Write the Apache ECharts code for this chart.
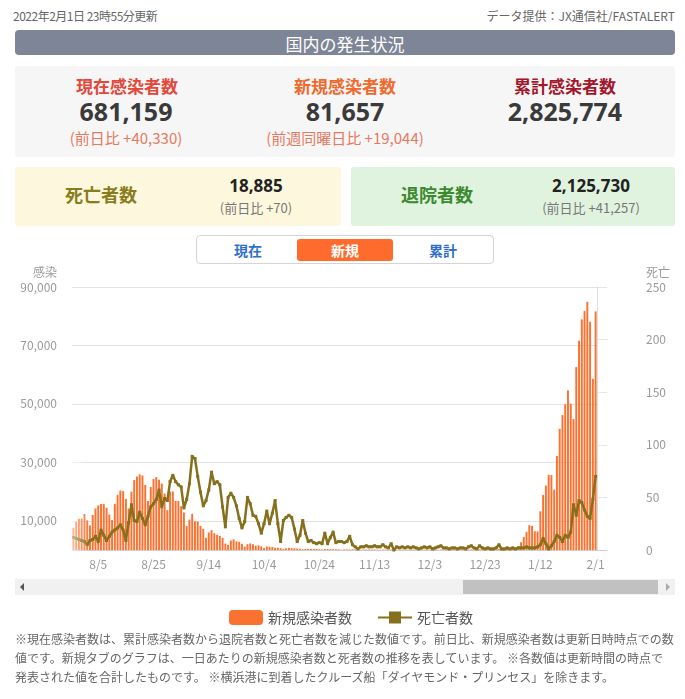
<!DOCTYPE html>
<html><head><meta charset="utf-8">
<script src="https://cdn.jsdelivr.net/npm/echarts@6/dist/echarts.min.js"></script>
<style>
body{margin:0;background:#fff;font-family:"Noto Sans CJK JP","Noto Sans",sans-serif;}
#page{position:relative;width:685px;height:699px;overflow:hidden;}
.a{position:absolute;white-space:nowrap;}
.c{position:absolute;white-space:nowrap;transform:translate(-50%,-50%);line-height:1;}
</style></head><body>
<div id="page">
  <div class="a" style="left:13px;top:7px;font-size:12px;color:#666;letter-spacing:-0.5px;">2022年2月1日 23時55分更新</div>
  <div class="a" style="right:10px;top:7px;font-size:12px;color:#666;letter-spacing:0px;">データ提供：JX通信社/FASTALERT</div>
  <div class="a" style="left:15px;top:30px;width:660px;height:25px;background:#7e8596;border-radius:4px;"></div>
  <div class="c" style="left:345px;top:43px;font-size:17px;color:#fff;">国内の発生状況</div>

  <div class="a" style="left:15px;top:66px;width:660px;height:91px;background:#f6f6f6;border-radius:3px;"></div>
  <div class="c" style="left:127px;top:85px;font-size:17px;font-weight:bold;color:#e5473a;">現在感染者数</div>
  <div class="c" style="left:126px;top:111px;font-size:25px;font-weight:bold;color:#3a3a3a;font-family:'Noto Sans',sans-serif;">681,159</div>
  <div class="c" style="left:126px;top:137px;font-size:15px;color:#e57a63;">(前日比 +40,330)</div>
  <div class="c" style="left:345px;top:85px;font-size:17px;font-weight:bold;color:#f06a2e;">新規感染者数</div>
  <div class="c" style="left:345px;top:111px;font-size:25px;font-weight:bold;color:#3a3a3a;font-family:'Noto Sans',sans-serif;">81,657</div>
  <div class="c" style="left:345px;top:137px;font-size:15px;color:#e57a63;">(前週同曜日比 +19,044)</div>
  <div class="c" style="left:565px;top:85px;font-size:17px;font-weight:bold;color:#a3162c;">累計感染者数</div>
  <div class="c" style="left:565px;top:111px;font-size:25px;font-weight:bold;color:#3a3a3a;font-family:'Noto Sans',sans-serif;">2,825,774</div>

  <div class="a" style="left:15px;top:167px;width:326px;height:59px;background:#fdf8dd;border-radius:3px;"></div>
  <div class="c" style="left:101px;top:194px;font-size:18px;font-weight:bold;color:#8a7c1c;">死亡者数</div>
  <div class="c" style="left:256px;top:185px;font-size:17px;font-weight:bold;color:#222;font-family:'Noto Sans',sans-serif;">18,885</div>
  <div class="c" style="left:256px;top:207px;font-size:13px;color:#777;">(前日比 +70)</div>
  <div class="a" style="left:351px;top:167px;width:324px;height:59px;background:#e0f3df;border-radius:3px;"></div>
  <div class="c" style="left:437px;top:194px;font-size:18px;font-weight:bold;color:#3c8a2e;">退院者数</div>
  <div class="c" style="left:591px;top:185px;font-size:17px;font-weight:bold;color:#222;font-family:'Noto Sans',sans-serif;">2,125,730</div>
  <div class="c" style="left:591px;top:207px;font-size:13px;color:#777;">(前日比 +41,257)</div>

  <div class="a" style="left:196px;top:235px;width:298px;height:29px;border:1px solid #d4d4d4;border-radius:4px;box-sizing:border-box;"></div>
  <div class="c" style="left:248px;top:250px;font-size:14px;font-weight:bold;color:#2f6fcc;">現在</div>
  <div class="a" style="left:297px;top:239px;width:96px;height:22px;background:#ff6b2c;border-radius:3px;"></div>
  <div class="c" style="left:345px;top:250px;font-size:14px;font-weight:bold;color:#fff;">新規</div>
  <div class="c" style="left:443px;top:250px;font-size:14px;font-weight:bold;color:#2f6fcc;">累計</div>

  <div id="chart" class="a" style="left:0;top:262px;width:685px;height:370px;"></div>
  <div class="a" style="left:66px;top:420px;width:24px;height:132px;background:linear-gradient(to right,rgba(255,255,255,0.7),rgba(255,255,255,0));"></div>

  <div class="a" style="left:15px;top:579px;width:660px;height:16px;background:#f1f1f1;"></div>
  <div class="a" style="left:463px;top:580px;width:195px;height:14px;background:#c1c1c1;"></div>
  <div class="a" style="left:20px;top:583px;width:0;height:0;border-top:4px solid transparent;border-bottom:4px solid transparent;border-right:4px solid #555;"></div>
  <div class="a" style="left:666px;top:583px;width:0;height:0;border-top:4px solid transparent;border-bottom:4px solid transparent;border-left:4px solid #aaa;"></div>

  <div class="a" style="left:15px;top:629px;font-size:12px;line-height:19px;color:#666;">※現在感染者数は、累計感染者数から退院者数と死亡者数を減じた数値です。前日比、新規感染者数は更新日時時点での数<br>値です。新規タブのグラフは、一日あたりの新規感染者数と死者数の推移を表しています。 ※各数値は更新時間の時点で<br>発表された値を合計したものです。 ※横浜港に到着したクルーズ船「ダイヤモンド・プリンセス」を除きます。</div>
</div>
<script>
// ---- data ----
const startDate = [2021, 7, 27];   // first visible day (7/27)
const dayCount = 190;              // 7/27/2021 .. 2/1/2022
const newCases = [
 7629,9576,10693,10743,12341,10168,8392,12017,14207,15263,15753,15812,14472,12150,10236,15812,18889,20366,20151,17491,
 14197,19955,23917,25156,25876,25492,22268,16786,21570,24316,24950,24055,22748,19296,13641,20020,20029,16811,16750,15018,
 12855,8227,10399,12396,9813,9780,8231,7216,4171,6004,6806,5742,5157,4786,4172,2219,1767,3239,3675,2977,
 2810,2131,1147,1992,2232,1986,1444,1575,1240,620,1171,1128,1058,796,773,623,379,608,741,621,
 608,521,429,232,372,389,345,325,317,265,154,300,315,278,269,253,231,86,208,200,
 168,222,204,162,107,193,183,189,169,177,125,80,147,144,128,160,141,119,50,109,
 77,110,130,148,113,64,127,113,121,113,138,131,71,124,147,125,138,145,128,80,
 158,178,173,186,190,158,107,257,260,250,292,289,263,210,384,395,501,552,536,553,
 781,1268,2638,4475,6214,8480,8249,6438,6384,13244,18860,22045,25742,25631,20664,32197,41485,46199,49854,54576,
 50085,44815,62613,71633,78930,81825,84941,78125,58605,81657
];
const deaths = [
 12,11,10,9,8,5,9,10,13,8,19,14,9,13,17,19,21,24,19,9,
 26,43,28,27,36,30,24,32,41,44,48,57,41,49,47,65,71,65,62,60,
 40,48,63,89,87,70,55,42,47,57,74,63,65,62,41,22,50,54,50,42,
 30,21,27,50,44,33,32,25,16,25,37,25,35,47,25,8,28,31,33,31,
 20,8,14,28,16,8,9,7,6,7,6,16,6,12,17,7,8,8,7,8,
 13,5,3,1,3,3,4,3,3,4,3,3,5,3,2,6,0,3,2,3,
 2,3,2,3,2,1,2,3,2,3,1,2,3,4,2,2,1,2,2,1,
 2,2,1,3,4,2,1,4,2,1,2,1,1,2,5,1,1,2,1,2,
 1,2,2,2,3,2,2,2,3,5,11,6,1,4,8,14,12,8,14,12,
 17,43,33,47,45,38,32,30,48,70
];
const leftTicks = [10000, 30000, 50000, 70000, 90000];
const rightTicks = [0, 50, 100, 150, 200, 250];
const firstLabelIndex = 9;   // 8/5
const labelEvery = 20;

const categories = [];
{
  const d = new Date(startDate[0], startDate[1] - 1, startDate[2]);
  for (let i = 0; i < dayCount; i++) {
    categories.push((d.getMonth() + 1) + '/' + d.getDate());
    d.setDate(d.getDate() + 1);
  }
}
const fmt = v => v.toString().replace(/\B(?=(\d{3})+(?!\d))/g, ',');
const gray = '#9a9a9a';
const lineColor = '#85701d';

const chart = echarts.init(document.getElementById('chart'), null, {renderer: 'canvas'});
chart.setOption({
  animation: false,
  textStyle: {fontFamily: '"Noto Sans CJK JP","Noto Sans",sans-serif'},
  grid: [
    {left: 72, top: 25, width: 525, height: 263},
    {left: 597, top: 25, width: 10, height: 263}
  ],
  xAxis: [
    {type: 'category', gridIndex: 0, data: categories, boundaryGap: true,
     axisLine: {lineStyle: {color: '#cccccc'}}, axisTick: {show: false},
     axisLabel: {interval: i => (i - firstLabelIndex) % labelEvery === 0, color: gray, fontSize: 12, margin: 8}},
    {type: 'category', gridIndex: 1, data: [''],
     axisLine: {lineStyle: {color: '#cccccc'}}, axisTick: {show: false}, axisLabel: {show: false}}
  ],
  yAxis: [
    {type: 'value', gridIndex: 0, min: 0, max: 90000, interval: 10000,
     name: '感染', nameLocation: 'end', nameGap: 15,
     nameTextStyle: {color: gray, fontSize: 12, align: 'right', verticalAlign: 'middle', padding: [0, 15, 0, 0]},
     axisLine: {show: false}, axisTick: {show: false, customValues: leftTicks},
     axisLabel: {customValues: leftTicks, formatter: v => fmt(v), color: gray, fontSize: 12, margin: 15},
     splitLine: {lineStyle: {color: '#e2e2e2'}}},
    {type: 'value', gridIndex: 0, position: 'right', min: 0, max: 250, interval: 50,
     axisLine: {show: true, lineStyle: {color: '#dddddd'}}, axisTick: {show: false},
     axisLabel: {show: false}, splitLine: {show: false}},
    {type: 'value', gridIndex: 1, position: 'right', min: 0, max: 250, interval: 50,
     name: '死亡', nameLocation: 'end', nameGap: 15,
     nameTextStyle: {color: gray, fontSize: 12, align: 'left', verticalAlign: 'middle', padding: [0, 0, 0, 39]},
     axisLine: {show: false}, axisTick: {show: false, customValues: rightTicks},
     axisLabel: {customValues: rightTicks, color: gray, fontSize: 12, margin: 39, align: 'left'},
     splitLine: {lineStyle: {color: '#e6e6e6'}}}
  ],
  legend: {
    left: 224, top: 343, itemWidth: 34, itemHeight: 15, itemGap: 25,
    textStyle: {color: '#555', fontSize: 14},
    data: ['新規感染者数', '死亡者数']
  },
  series: [
    {name: '新規感染者数', type: 'bar', xAxisIndex: 0, yAxisIndex: 0, data: newCases,
     barWidth: '70%', itemStyle: {color: '#fa7230'}},
    {name: '死亡者数', type: 'line', xAxisIndex: 0, yAxisIndex: 1, data: deaths,
     symbol: 'rect', symbolSize: 3, showAllSymbol: true,
     lineStyle: {color: lineColor, width: 2.5}, itemStyle: {color: lineColor}}
  ]
});
</script>
</body></html>
